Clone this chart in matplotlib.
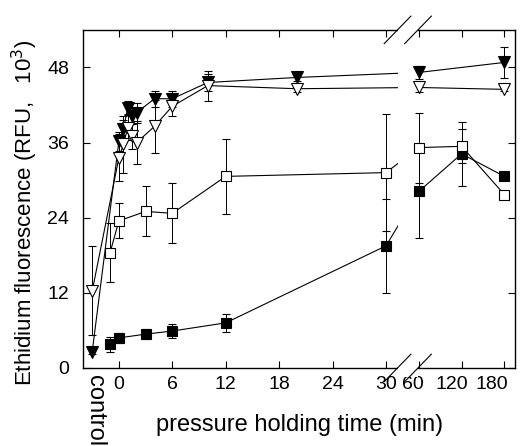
import numpy as np
import matplotlib.pyplot as plt
import matplotlib.transforms as mtransforms
from matplotlib.patches import Rectangle

plt.rcParams['font.family'] = ['Liberation Sans', 'DejaVu Sans']

# Tiempos de muestreo (min) y fluorescencia de etidio (RFU x 10^3)
t_cuad = [-1, 0, 3, 6, 12, 30, 60, 120, 180]
cuad_lleno = [3.8, 4.8, 5.4, 5.9, 7.2, 19.5, 28.2, 34.2, 30.6]
cuad_lleno_err = [1.2, 0.85, 0.8, 1.1, 1.4, 7.5, 7.4, 5.1, 0.0]
cuad_vacio = [18.4, 23.5, 25.0, 24.7, 30.6, 31.2, 35.2, 35.4, 27.7]
cuad_vacio_err = [4.7, 2.8, 4.0, 4.8, 6.0, 9.4, 5.6, 2.7, 0.0]

t_tri = ['control', 0, 0.5, 1, 1.5, 2, 4, 6, 10, 20, 60, 180]
tri_lleno = [2.6, 36.2, 38.1, 41.6, 40.2, 40.8, 43.0, 43.0, 45.6, 46.4, 47.2, 48.8]
tri_lleno_err = [0.3, 1.5, 1.5, 1.0, 1.3, 1.6, 1.3, 1.3, 1.3, 0.5, 1.0, 2.5]
tri_vacio = [12.3, 33.6, 35.7, 38.4, 37.0, 36.0, 38.6, 41.8, 45.1, 44.6, 44.8, 44.5]
tri_vacio_err = [7.1, 3.8, 4.5, 2.0, 2.0, 3.5, 4.2, 1.5, 2.4, 0.6, 0.8, 0.3]

ticks_t = [0, 6, 12, 18, 24, 30, 60, 120, 180]


# Eje x partido: lineal hasta 30 min, luego 60/120/180 equiespaciados
def xpos(t):
    if t == 'control':
        return -3.0
    if t <= 30:
        return float(t)
    return 33.7 + (t - 60) * 0.08


fig = plt.figure(figsize=(5.25, 4.46), dpi=100)
ax = fig.add_axes([0.158, 0.175, 0.823, 0.758])

series = [
    (t_cuad, cuad_lleno, cuad_lleno_err, 's', 'black', 6.5),
    (t_cuad, cuad_vacio, cuad_vacio_err, 's', 'white', 6.5),
    (t_tri, tri_lleno, tri_lleno_err, 'v', 'black', 8),
    (t_tri, tri_vacio, tri_vacio_err, 'v', 'white', 8),
]

for t, y, err, mk, fc, ms in series:
    x = [xpos(v) for v in t]
    ax.plot(x, y, color='black', lw=0.8, zorder=2)
    ax.errorbar(x, y, yerr=err, fmt=mk, mfc=fc, mec='black', mew=0.8, ms=ms,
                ecolor='black', elinewidth=0.7, capsize=3, capthick=0.7, zorder=3)

ax.set_xlim(-4.04, 44.5)
ax.set_ylim(0, 54)

# Corte del eje entre 30 y 60 min
ax.add_patch(Rectangle((31.3, -1.5), 2.3, 57, facecolor='white', edgecolor='none',
                       clip_on=False, zorder=2.7))
for xc in (31.3, 33.6):
    for yc in (0, 54):
        ax.plot([xc - 1.5, xc + 1.5], [yc - 2.2, yc + 2.2], color='black', lw=0.8,
                clip_on=False, zorder=2.8)

ax.set_xticks([xpos(v) for v in ticks_t])
ax.set_xticklabels([str(v) for v in ticks_t])
ax.set_yticks([0, 12, 24, 36, 48])
ax.tick_params(direction='in', top=True, right=True, length=5, width=0.8, labelsize=14)
ax.tick_params(axis='x', pad=6)
ax.tick_params(axis='y', pad=10)
for s in ax.spines.values():
    s.set_linewidth(1.0)

# Corrimiento de las etiquetas 60, 120 y 180 hacia la izquierda
shift = {'60': -6, '120': -10, '180': -13}
for lab in ax.get_xticklabels():
    dx = shift.get(lab.get_text())
    if dx:
        off = mtransforms.ScaledTranslation(dx / 100, 0, fig.dpi_scale_trans)
        lab.set_transform(lab.get_transform() + off)

ax.text(xpos('control') + 0.3, -0.02, 'control', rotation=270, ha='center', va='top',
        fontsize=17, transform=ax.get_xaxis_transform())

ax.set_xlabel('pressure holding time (min)', fontsize=17)
ax.set_ylabel('Ethidium fluorescence (RFU,   10$^3$)', fontsize=16)
ax.xaxis.set_label_coords(0.502, -0.135)
ax.yaxis.set_label_coords(-0.10, 0.46)

fig.savefig('out.png', dpi=100)
